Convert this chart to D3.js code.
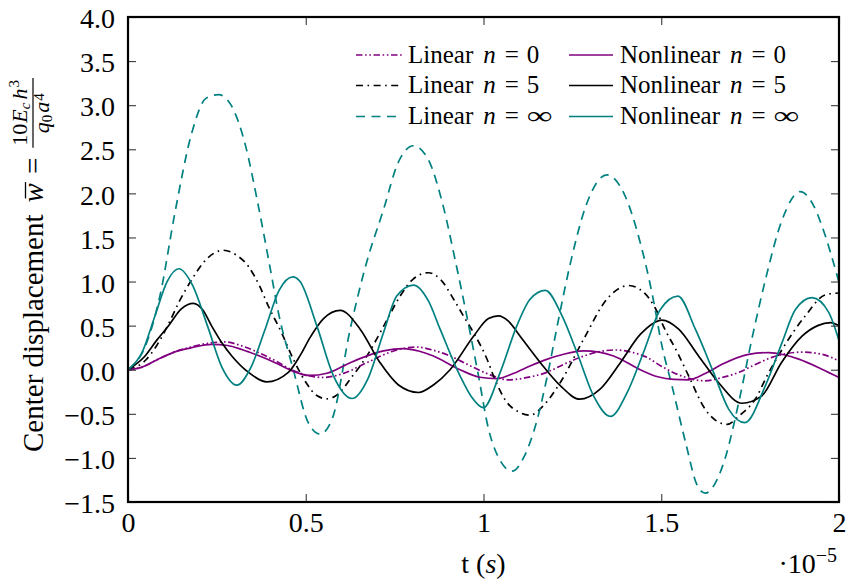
<!DOCTYPE html>
<html>
<head>
<meta charset="utf-8">
<script src="https://cdn.jsdelivr.net/npm/d3@7"></script>
<style>
  html, body { margin: 0; padding: 0; background: #fff; }
  svg { display: block; font-family: "Liberation Serif", "Times New Roman", serif; }
</style>
</head>
<body>
<svg id="chart" width="850" height="586"></svg>
<script>
// Center displacement vs time (t in units of 1e-5 s)
const linear0 = [[0,0],[0.04,0.03],[0.085,0.12],[0.13,0.2],[0.179,0.26],[0.225,0.3],[0.273,0.315],[0.32,0.27],[0.367,0.195],[0.415,0.1],[0.46,0.0],[0.512,-0.07],[0.55,-0.088],[0.6,-0.05],[0.672,0.08],[0.747,0.213],[0.8125,0.258],[0.86,0.22],[0.906,0.156],[0.96,0.05],[1.014,-0.05],[1.07,-0.115],[1.12,-0.09],[1.178,-0.03],[1.225,0.06],[1.272,0.14],[1.32,0.2],[1.37,0.224],[1.415,0.2],[1.46,0.14],[1.5,0.04],[1.55,-0.06],[1.624,-0.126],[1.67,-0.09],[1.718,-0.03],[1.765,0.06],[1.811,0.14],[1.855,0.185],[1.896,0.2],[1.952,0.175],[2.0,0.1]];

const nonlinear0 = [[0,0],[0.04,0.03],[0.085,0.12],[0.13,0.2],[0.179,0.25],[0.2355,0.288],[0.28,0.275],[0.32,0.23],[0.37,0.155],[0.414,0.08],[0.46,-0.01],[0.51,-0.065],[0.56,-0.04],[0.625,0.08],[0.675,0.16],[0.7186,0.213],[0.775,0.24],[0.82,0.21],[0.859,0.156],[0.934,0.0],[0.99,-0.085],[1.038,-0.1],[1.085,-0.04],[1.131,0.043],[1.18,0.12],[1.225,0.175],[1.2815,0.213],[1.325,0.2],[1.366,0.156],[1.441,0.0],[1.49,-0.08],[1.535,-0.11],[1.577,-0.115],[1.625,-0.04],[1.671,0.062],[1.746,0.175],[1.802,0.195],[1.845,0.17],[1.887,0.12],[1.952,0.006],[2.0,-0.088]];

const linear5 = [[0,0],[0.05,0.11],[0.08,0.27],[0.113,0.51],[0.145,0.78],[0.179,1.02],[0.22,1.25],[0.268,1.355],[0.305,1.3],[0.339,1.17],[0.37,0.95],[0.395,0.72],[0.432,0.42],[0.465,0.12],[0.503,-0.16],[0.53,-0.29],[0.559,-0.33],[0.59,-0.28],[0.63,-0.08],[0.672,0.156],[0.72,0.5],[0.7655,0.835],[0.8,1.02],[0.845,1.1],[0.88,1.02],[0.916,0.8],[0.945,0.6],[0.972,0.42],[1.014,0.08],[1.028,-0.07],[1.066,-0.37],[1.1,-0.48],[1.131,-0.515],[1.17,-0.4],[1.216,-0.145],[1.2815,0.345],[1.347,0.8],[1.408,0.955],[1.45,0.88],[1.483,0.7],[1.51,0.46],[1.545,0.2],[1.577,-0.07],[1.624,-0.45],[1.655,-0.58],[1.685,-0.62],[1.72,-0.52],[1.765,-0.33],[1.8,-0.05],[1.84,0.23],[1.905,0.61],[1.962,0.85],[2.0,0.87]];

const nonlinear5 = [[0,0],[0.048,0.156],[0.08,0.33],[0.1135,0.495],[0.15,0.69],[0.184,0.752],[0.21,0.68],[0.2355,0.495],[0.265,0.3],[0.292,0.156],[0.339,-0.03],[0.39,-0.138],[0.451,-0.03],[0.484,0.16],[0.512,0.364],[0.55,0.58],[0.597,0.673],[0.653,0.46],[0.709,0.08],[0.76,-0.17],[0.817,-0.258],[0.86,-0.17],[0.906,0.0],[0.972,0.38],[1.014,0.58],[1.042,0.61],[1.07,0.55],[1.103,0.38],[1.16,0.08],[1.216,-0.18],[1.27,-0.334],[1.328,-0.22],[1.385,0.08],[1.441,0.4],[1.502,0.563],[1.549,0.46],[1.605,0.156],[1.661,-0.145],[1.727,-0.38],[1.782,-0.3],[1.838,0.08],[1.896,0.38],[1.94,0.5],[1.976,0.534],[2.0,0.5]];

const linearInf = [[0,0],[0.05,0.28],[0.09,0.84],[0.132,1.78],[0.179,2.68],[0.22,3.08],[0.255,3.12],[0.29,3.0],[0.33,2.55],[0.367,1.85],[0.4,1.15],[0.423,0.65],[0.465,0.0],[0.507,-0.6],[0.54,-0.73],[0.575,-0.55],[0.625,0.46],[0.67,1.2],[0.719,1.82],[0.76,2.35],[0.803,2.54],[0.845,2.38],[0.887,1.85],[0.92,1.25],[0.953,0.61],[0.985,-0.05],[1.014,-0.67],[1.05,-1.05],[1.08,-1.15],[1.115,-0.98],[1.15,-0.58],[1.178,-0.1],[1.21,0.55],[1.244,1.2],[1.29,1.88],[1.347,2.21],[1.395,2.0],[1.441,1.44],[1.475,0.85],[1.502,0.27],[1.53,-0.18],[1.57,-0.85],[1.6,-1.3],[1.624,-1.4],[1.65,-1.3],[1.68,-1.0],[1.718,-0.37],[1.755,0.35],[1.793,1.02],[1.84,1.7],[1.891,2.02],[1.93,1.85],[1.952,1.63],[2.0,0.99]];

const nonlinearInf = [[0,0],[0.04,0.2],[0.075,0.6],[0.11,1.0],[0.1435,1.145],[0.18,0.97],[0.225,0.48],[0.264,0.03],[0.306,-0.175],[0.345,0.02],[0.385,0.45],[0.425,0.9],[0.4635,1.054],[0.484,1.0],[0.531,0.5],[0.578,-0.07],[0.63,-0.326],[0.675,-0.1],[0.7186,0.42],[0.756,0.835],[0.803,0.96],[0.845,0.78],[0.878,0.46],[0.934,-0.07],[0.965,-0.3],[1.0,-0.43],[1.047,-0.03],[1.094,0.5],[1.131,0.8],[1.174,0.9],[1.221,0.61],[1.263,0.195],[1.31,-0.3],[1.357,-0.53],[1.404,-0.26],[1.45,0.195],[1.497,0.68],[1.547,0.835],[1.596,0.46],[1.647,-0.03],[1.69,-0.45],[1.735,-0.6],[1.793,-0.18],[1.84,0.31],[1.877,0.68],[1.924,0.817],[1.971,0.65],[2.0,0.33]];

const xTicks = [0, 0.5, 1, 1.5, 2];
const xTickLabels = ["0", "0.5", "1", "1.5", "2"];
const yTicks = [-1.5, -1, -0.5, 0, 0.5, 1, 1.5, 2, 2.5, 3, 3.5, 4];
const yTickLabels = ["\u22121.5", "\u22121.0", "\u22120.5", "0.0", "0.5", "1.0", "1.5", "2.0", "2.5", "3.0", "3.5", "4.0"];

const PURPLE = "#800080", TEAL = "#008080", BLACK = "#000";
const series = [
  { kind: "Linear",    n: "0",      data: linear0,      color: PURPLE, dash: "6.5,2.6,1.6,2.6,1.6,2.6" },
  { kind: "Linear",    n: "5",      data: linear5,      color: BLACK,  dash: "7,4.5,1.6,4.5" },
  { kind: "Linear",    n: "\u221E", data: linearInf,    color: TEAL,   dash: "9,6.5" },
  { kind: "Nonlinear", n: "0",      data: nonlinear0,   color: PURPLE, dash: null },
  { kind: "Nonlinear", n: "5",      data: nonlinear5,   color: BLACK,  dash: null },
  { kind: "Nonlinear", n: "\u221E", data: nonlinearInf, color: TEAL,   dash: null }
];

const svg = d3.select("#chart");
const L = 128, R = 839, T = 17, B = 502;
const x = d3.scaleLinear().domain([0, 2]).range([L, R]);
const y = d3.scaleLinear().domain([-1.5, 4]).range([B, T]);

svg.append("defs").append("clipPath").attr("id", "plotclip")
  .append("rect").attr("x", L).attr("y", T).attr("width", R - L).attr("height", B - T);

// curves
const line = d3.line().x(d => x(d[0])).y(d => y(d[1])).curve(d3.curveMonotoneX);
const plot = svg.append("g").attr("clip-path", "url(#plotclip)");
series.forEach(s => {
  plot.append("path")
    .attr("d", line(s.data))
    .attr("fill", "none")
    .attr("stroke", s.color)
    .attr("stroke-width", 1.7)
    .attr("stroke-linejoin", "round")
    .attr("stroke-dasharray", s.dash);
});

// axes with inward ticks
const tickLen = 8;
const bottomAxis = d3.axisBottom(x).tickValues(xTicks).tickFormat((d, i) => xTickLabels[i])
  .tickSizeInner(-tickLen).tickSizeOuter(0).tickPadding(10);
const leftAxis = d3.axisLeft(y).tickValues(yTicks).tickFormat((d, i) => yTickLabels[i])
  .tickSizeInner(-tickLen).tickSizeOuter(0).tickPadding(13);
const topAxis = d3.axisTop(x).tickValues(xTicks).tickFormat("").tickSizeInner(-tickLen).tickSizeOuter(0);
const rightAxis = d3.axisRight(y).tickValues(yTicks).tickFormat("").tickSizeInner(-tickLen).tickSizeOuter(0);

function styleAxis(g) {
  g.select(".domain").remove();
  g.selectAll(".tick line").attr("stroke", "#3a3a3a").attr("stroke-width", 1.1);
  g.selectAll(".tick text").attr("fill", "#000").style("font-family", "'Liberation Serif', serif").style("font-size", "28px");
}
svg.append("g").attr("transform", `translate(0,${B})`).call(bottomAxis).call(styleAxis);
svg.append("g").attr("transform", `translate(${L},0)`).call(leftAxis).call(styleAxis)
  .selectAll(".tick text").attr("dy", "0.38em");
svg.append("g").attr("transform", `translate(0,${T})`).call(topAxis).call(styleAxis);
svg.append("g").attr("transform", `translate(${R},0)`).call(rightAxis).call(styleAxis);

// frame
svg.append("rect").attr("x", L).attr("y", T).attr("width", R - L).attr("height", B - T)
  .attr("fill", "none").attr("stroke", "#000").attr("stroke-width", 2.2);

// legend (two columns, three rows), pieces placed one after another
const legendRows = [55, 85.5, 116.5];
const legendCols = [{ x0: 356, x1: 402, tx: 408 }, { x0: 569, x1: 613, tx: 620 }];
function putText(parent, px, py, str, italic) {
  const t = parent.append("text").attr("x", px).attr("y", py).style("font-size", "25px").text(str);
  if (italic) t.style("font-style", "italic");
  return px + t.node().getComputedTextLength();
}
series.forEach((s, i) => {
  const col = legendCols[s.kind === "Linear" ? 0 : 1];
  const ry = legendRows[i % 3];
  svg.append("line").attr("x1", col.x0).attr("x2", col.x1).attr("y1", ry).attr("y2", ry)
    .attr("stroke", s.color).attr("stroke-width", 1.7).attr("stroke-dasharray", s.dash);
  const by = ry + 7.5;
  let px = putText(svg, col.tx, by, s.kind, false);
  px = putText(svg, px + 10, by, "n", true);
  px = putText(svg, px + 9, by, "=", false);
  if (s.n === "\u221E") {
    // wide infinity sign
    svg.append("text").attr("transform", `translate(${px + 8},${by}) scale(1.45,1)`)
      .style("font-size", "25px").text(s.n);
  } else {
    putText(svg, px + 8, by, s.n, false);
  }
});

// x-axis title and multiplier
const xt = svg.append("text").attr("x", x(1)).attr("y", 573).attr("text-anchor", "middle")
  .style("font-size", "28px");
xt.append("tspan").text("t (");
xt.append("tspan").style("font-style", "italic").text("s");
xt.append("tspan").text(")");

const mult = svg.append("text").attr("x", 837).attr("y", 573).attr("text-anchor", "end")
  .style("font-size", "28px");
mult.append("tspan").text("\u00B710");
mult.append("tspan").attr("dy", -11).style("font-size", "20px").text("\u22125");

// y-axis title, rotated; pieces laid out along the text direction
const yl = svg.append("g").attr("transform", "translate(43,452) rotate(-90)");
let u = 0;
const main = yl.append("text").attr("x", 0).attr("y", 0).style("font-size", "29px")
  .text("Center displacement");
u += main.node().getComputedTextLength() + 12;
const wt = yl.append("text").attr("x", u).attr("y", 0).style("font-size", "29px")
  .style("font-style", "italic").text("w");
const wLen = wt.node().getComputedTextLength();
yl.append("line").attr("x1", u + 4).attr("x2", u + wLen + 1).attr("y1", -17.5).attr("y2", -17.5)
  .attr("stroke", "#000").attr("stroke-width", 1.3);
u += wLen + 9;
const eq = yl.append("text").attr("x", u).attr("y", 0).style("font-size", "29px").text("=");
u += eq.node().getComputedTextLength() + 10;

// fraction: numerator above the bar, denominator below it
const barY = -10;
const num = yl.append("text").attr("y", barY - 6).style("font-size", "22px");
num.append("tspan").text("10");
num.append("tspan").attr("dx", 1).style("font-style", "italic").text("E");
num.append("tspan").attr("dy", 3).style("font-size", "15px").style("font-style", "italic").text("c");
num.append("tspan").attr("dy", -3).attr("dx", 3).style("font-style", "italic").text("h");
num.append("tspan").attr("dy", -8).attr("dx", 1).style("font-size", "15px").text("3");
const den = yl.append("text").attr("y", barY + 16).style("font-size", "22px");
den.append("tspan").style("font-style", "italic").text("q");
den.append("tspan").attr("dy", 3).style("font-size", "15px").text("0");
den.append("tspan").attr("dy", -3).attr("dx", 2).style("font-style", "italic").text("a");
den.append("tspan").attr("dy", -5).attr("dx", 1).style("font-size", "15px").text("4");
const numW = num.node().getBBox().width, denW = den.node().getBBox().width;
const fracW = Math.max(numW, denW) + 4;
num.attr("x", u + (fracW - numW) / 2);
den.attr("x", u + (fracW - denW) / 2);
yl.append("line").attr("x1", u).attr("x2", u + fracW).attr("y1", barY).attr("y2", barY)
  .attr("stroke", "#000").attr("stroke-width", 1.2);
</script>
</body>
</html>
